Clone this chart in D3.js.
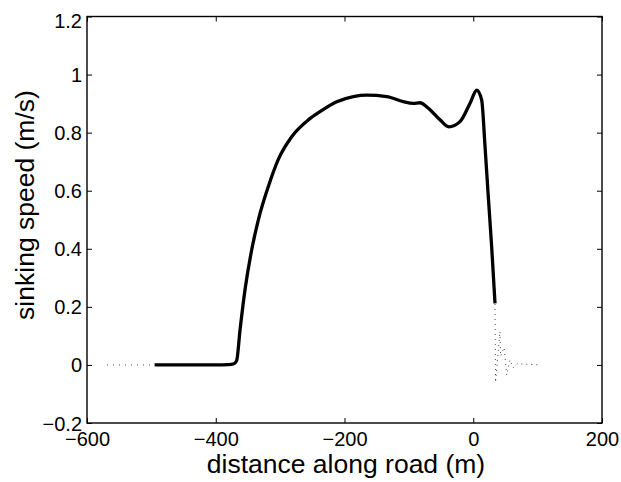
<!DOCTYPE html>
<html>
<head>
<meta charset="utf-8">
<script src="https://cdn.jsdelivr.net/npm/d3@7"></script>
<style>
  html, body { margin: 0; padding: 0; background: #fff; }
  svg { display: block; }
  text { font-family: "Liberation Sans", Arial, Helvetica, sans-serif; fill: #000; }
</style>
</head>
<body>
<svg id="chart" width="621" height="482"></svg>
<script>
// Sinking speed measured along the road (solid trace)
const speedX = [-495, -450, -400, -380, -372, -367.5, -362.3, -354.6, -344.2, -333.9, -318.4,
  -302.8, -282, -256.2, -238.1, -212.1, -186.3, -165.5, -134.4, -108.7, -93.1, -82.7, -72.3,
  -51.7, -38, -20.6, -5, 5.4, 13.1, 18.3, 23.4, 28.6, 33.8];
const speedY = [0, 0, 0, 0.001, 0.004, 0.015, 0.12, 0.258, 0.396, 0.499, 0.614,
  0.708, 0.786, 0.844, 0.872, 0.906, 0.924, 0.929, 0.924, 0.907, 0.901, 0.903, 0.889,
  0.844, 0.82, 0.838, 0.901, 0.946, 0.912, 0.752, 0.579, 0.407, 0.212];

// Dotted extensions before and after the measured section
const leadX = [-569, -495];
const leadY = [0, 0];
const tailX = [33.8, 34.6, 41.5, 42.5, 48, 52, 57, 62, 68, 104];
const tailY = [0.21, -0.06, 0.115, 0.03, 0.06, -0.035, 0.017, -0.01, 0.004, 0];

// Axis ticks
const xTicks = [-600, -400, -200, 0, 200];
const yTicks = [-0.2, 0, 0.2, 0.4, 0.6, 0.8, 1, 1.2];

const xLabel = "distance along road (m)";
const yLabel = "sinking speed (m/s)";

const svg = d3.select("#chart");
const box = { left: 87, right: 602, top: 16.5, bottom: 423 };

const x = d3.scaleLinear().domain([-600, 200]).range([box.left, box.right]);
const y = d3.scaleLinear().domain([-0.2, 1.2]).range([box.bottom, box.top]);

const fmt = v => (v < 0 ? "\u2212" : "") + String(Math.abs(Math.round(v * 10) / 10));

// Axes with inward ticks on all four sides
const tickLen = 5;
const axB = svg.append("g").attr("transform", `translate(0,${box.bottom})`)
  .call(d3.axisBottom(x).tickValues(xTicks).tickSize(-tickLen).tickPadding(9).tickFormat(fmt));
const axT = svg.append("g").attr("transform", `translate(0,${box.top})`)
  .call(d3.axisTop(x).tickValues(xTicks).tickSize(-tickLen).tickFormat(""));
const axL = svg.append("g").attr("transform", `translate(${box.left},0)`)
  .call(d3.axisLeft(y).tickValues(yTicks).tickSize(-tickLen).tickPadding(5).tickFormat(fmt));
const axR = svg.append("g").attr("transform", `translate(${box.right},0)`)
  .call(d3.axisRight(y).tickValues(yTicks).tickSize(-tickLen).tickFormat(""));

[axB, axT, axL, axR].forEach(g => {
  g.select(".domain").remove();
  g.selectAll(".tick line").attr("stroke", "#000").attr("stroke-width", 1);
  g.selectAll(".tick text").attr("font-size", 20)
    .attr("font-family", "'Liberation Sans', Arial, sans-serif").attr("fill", "#000");
});
axB.selectAll(".tick text").attr("dy", null).attr("y", 23);
axL.selectAll(".tick text").attr("dy", "0.35em")
  .attr("y", d => Math.max(0, 20 - y(d)));

// Box
svg.append("rect")
  .attr("x", box.left).attr("y", box.top)
  .attr("width", box.right - box.left).attr("height", box.bottom - box.top)
  .attr("fill", "none").attr("stroke", "#000").attr("stroke-width", 1.4);

// Plot area clip
svg.append("clipPath").attr("id", "plot")
  .append("rect").attr("x", box.left).attr("y", box.top)
  .attr("width", box.right - box.left).attr("height", box.bottom - box.top);

const plot = svg.append("g").attr("clip-path", "url(#plot)");

const lineGen = d3.line().x(d => x(d[0])).y(d => y(d[1]));

plot.append("path")
  .datum(d3.zip(leadX, leadY))
  .attr("d", lineGen)
  .attr("fill", "none").attr("stroke", "#444").attr("stroke-width", 1)
  .attr("stroke-dasharray", "1,5");

plot.append("path")
  .datum(d3.zip(tailX, tailY))
  .attr("d", lineGen)
  .attr("fill", "none").attr("stroke", "#444").attr("stroke-width", 1)
  .attr("stroke-dasharray", "1,4");

plot.append("path")
  .datum(d3.zip(speedX, speedY))
  .attr("d", d3.line().x(d => x(d[0])).y(d => y(d[1])).curve(d3.curveMonotoneX))
  .attr("fill", "none").attr("stroke", "#000").attr("stroke-width", 3.3)
  .attr("stroke-linejoin", "round").attr("stroke-linecap", "butt");

// Axis titles
svg.append("text")
  .attr("x", 346).attr("y", 473)
  .attr("text-anchor", "middle").attr("font-size", 26.5)
  .text(xLabel);

svg.append("text")
  .attr("transform", "translate(34,205) rotate(-90)")
  .attr("text-anchor", "middle").attr("font-size", 26.5)
  .text(yLabel);
</script>
</body>
</html>
